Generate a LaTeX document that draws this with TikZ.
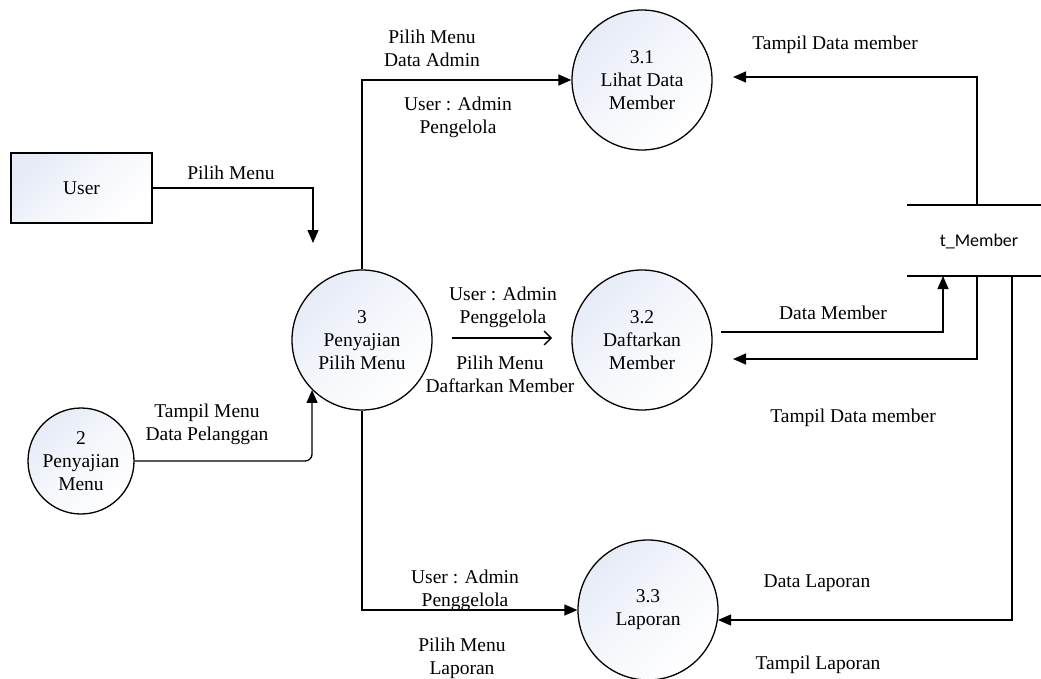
\documentclass[tikz,border=0pt]{standalone}
\usepackage{fontspec}
\setmainfont{Liberation Serif}
\newfontfamily\calib{Carlito}
\usetikzlibrary{arrows.meta}
\definecolor{shadeblue}{RGB}{230,235,247}
\begin{document}
\begin{tikzpicture}[x=1pt,y=-1pt,
  txt/.style={font=\fontsize{19.5}{23}\selectfont},
  bgshade/.style={top color=shadeblue, bottom color=white, middle color=white!60!shadeblue, shading angle=45},
  proc/.style={draw, line width=1.3pt, circle, minimum size=140pt, inner sep=0pt, align=center, bgshade, txt},
  ext/.style={draw, line width=1.3pt, rectangle, minimum width=141pt, minimum height=70pt, bgshade, txt},
  lbl/.style={align=center, inner sep=0pt, txt},
  flow/.style={line width=1.3pt, -{Triangle[length=13pt,width=11pt]}},
  openflow/.style={line width=1.3pt, -{Straight Barb[length=7pt,width=14pt]}},
  plain/.style={line width=1.3pt}
]
\useasboundingbox (0,0) rectangle (1041,679);

% nodes
\node[ext] (user) at (81.5,188) {User};
\node[proc] (p3) at (362,340) {3\\Penyajian\\Pilih Menu};
\node[proc, minimum size=106pt] (p2) at (81,461) {2\\Penyajian\\Menu};
\node[proc] (p31) at (642,80) {3.1\\Lihat Data\\Member};
\node[proc] (p32) at (642,340) {3.2\\Daftarkan\\Member};
\node[proc] (p33) at (648,610) {3.3\\Laporan};

% data store
\coordinate (stTL) at (907,205);
\coordinate (stTR) at (1041,205);
\coordinate (stBL) at (907,276);
\coordinate (stBR) at (1041,276);
\draw[plain] (stTL) -- (stTR);
\draw[plain] (stBL) -- (stBR);
\node[inner sep=0pt, font=\calib\fontsize{18}{21}\selectfont] (store) at (979,241) {t\_Member};

% coordinates for free ends
\coordinate (userEnd) at (313,243);
\coordinate (midA) at (452,338);
\coordinate (midB) at (552,338);
\coordinate (st1) at (977,205);
\coordinate (t31) at (733,77);
\coordinate (dmStart) at (721,332);
\coordinate (dmEnd) at (943,276);
\coordinate (st2) at (977,276);
\coordinate (t32) at (733,359);
\coordinate (st3) at (1012,276);
\coordinate (t33) at (718,620);

% connectors
\draw[flow] (user.east) -| (userEnd);
\draw[flow, rounded corners=7pt] (p2.east) -| (p3.south west);
\draw[flow] (p3.north) |- (p31.west);
\draw[flow] (p3.south) |- (p33.west);
\draw[openflow] (midA) -- (midB);
\draw[flow] (st1) |- (t31);
\draw[flow] (dmStart) -| (dmEnd);
\draw[flow] (st2) |- (t32);
\draw[flow] (st3) |- (t33);

% labels
\node[lbl] (lPilih) at (231,173) {Pilih Menu};
\node[lbl] (lTampilMenu) at (207,424) {Tampil Menu\\Data Pelanggan};
\node[lbl] (lDataAdmin) at (432,48) {Pilih Menu\\Data Admin};
\node[lbl] (lUser1) at (458,117) {User : Admin\\Pengelola};
\node[lbl] (lUser2) at (503,307) {User : Admin\\Penggelola};
\node[lbl] (lDaftar) at (500,374) {Pilih Menu\\Daftarkan Member};
\node[lbl] (lUser3) at (465,590) {User : Admin\\Penggelola};
\node[lbl] (lLap) at (462,658) {Pilih Menu\\Laporan};
\node[lbl] (lTDM1) at (835,45) {Tampil Data member};
\node[lbl] (lDM) at (833,313) {Data Member};
\node[lbl] (lTDM2) at (853,418) {Tampil Data member};
\node[lbl] (lDL) at (817,583) {Data Laporan};
\node[lbl] (lTL) at (818,665) {Tampil Laporan};
\end{tikzpicture}
\end{document}
